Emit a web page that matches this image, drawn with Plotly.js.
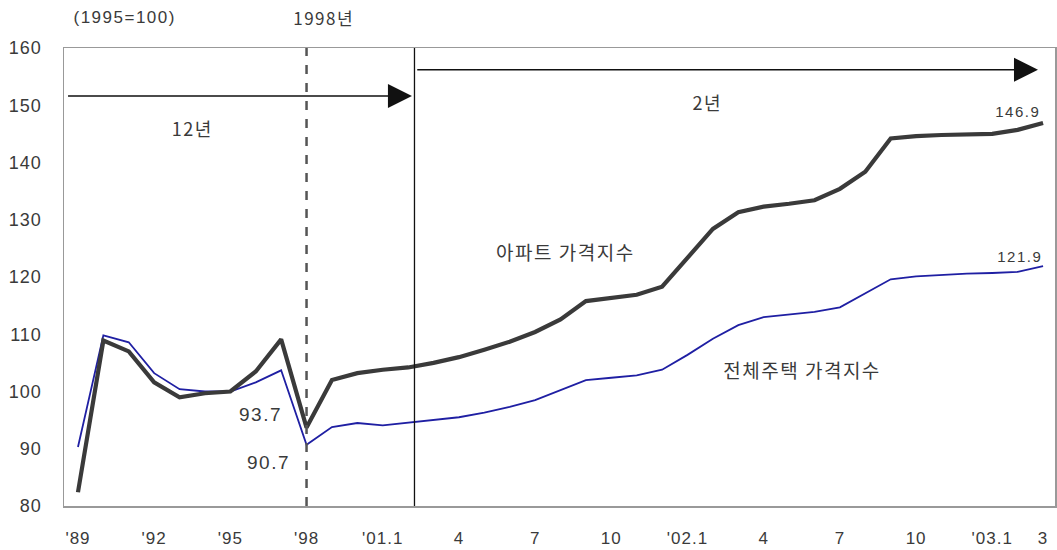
<!DOCTYPE html>
<html><head><meta charset="utf-8">
<script src="https://cdn.plot.ly/plotly-3.0.1.min.js"></script>
<style>
body{margin:0;background:#fff}#c{width:1057px;height:550px}
#c .annotation-text{letter-spacing:1.5px}
#c .xtick text, #c .ytick text{letter-spacing:1px}
</style>
</head><body><div id="c"></div>
<script>
// periods: annual 1989-2000, then monthly 2001.1-2003.3
const periods = ["'89","'90","'91","'92","'93","'94","'95","'96","'97","'98","'99","'00",
  "01.1","01.2","01.3","01.4","01.5","01.6","01.7","01.8","01.9","01.10","01.11","01.12",
  "02.1","02.2","02.3","02.4","02.5","02.6","02.7","02.8","02.9","02.10","02.11","02.12",
  "03.1","03.2","03.3"];
const apartIndex = [82.4,108.9,107.0,101.6,99.0,99.7,100.0,103.5,109.1,93.7,102.0,103.2,
  103.8,104.2,105.0,106.0,107.3,108.7,110.4,112.6,115.8,116.4,116.9,118.3,
  123.4,128.4,131.3,132.3,132.8,133.4,135.4,138.4,144.2,144.6,144.8,144.9,
  145.0,145.7,146.9];
const totalIndex = [90.3,109.8,108.6,103.2,100.4,100.0,100.0,101.6,103.7,90.7,93.8,94.5,
  94.1,94.6,95.0,95.5,96.3,97.3,98.5,100.2,102.0,102.4,102.8,103.8,
  106.4,109.2,111.6,113.0,113.5,113.9,114.7,117.2,119.6,120.1,120.4,120.6,
  120.7,120.9,121.9];
const tickCats = ["'89","'92","'95","'98","01.1","01.4","01.7","01.10","02.1","02.4","02.7","02.10","03.1","03.3"];
const tickLabels = ["'89","'92","'95","'98","'01.1","4","7","10","'02.1","4","7","10","'03.1","3"];

const FONT = "Liberation Sans, Arial, 'Noto Sans CJK KR', sans-serif";
const KFONT = "'Noto Sans CJK KR', 'Liberation Sans', sans-serif";
const TXT = '#3a3a3a';

const traces = [
  {x: periods, y: totalIndex, type:'scatter', mode:'lines',
   line:{color:'#1f1fa3', width:1.8}, hoverinfo:'skip'},
  {x: periods, y: apartIndex, type:'scatter', mode:'lines',
   line:{color:'#3a3a3a', width:4.2}, hoverinfo:'skip'}
];

function txt(x, y, text, size, family, yref){
  return {x:x, y:y, xref:'x', yref:yref||'y', text:text, showarrow:false,
    xanchor:'center', yanchor:'middle',
    font:{family:family||FONT, size:size||16, color:TXT}};
}

const layout = {
  width:1057, height:550,
  margin:{l:64, r:2, t:48, b:44},
  paper_bgcolor:'#fff', plot_bgcolor:'#fff',
  showlegend:false,
  xaxis:{type:'category', range:[-0.55, 38.47], showgrid:false, zeroline:false,
    showline:true, linecolor:'#999', linewidth:1.5, mirror:true, ticks:'',
    tickmode:'array', tickvals:tickCats, ticktext:tickLabels,
    tickfont:{family:FONT, size:17, color:TXT}, ticklabelstandoff:16},
  yaxis:{range:[80,160], dtick:10, showgrid:false, zeroline:false,
    showline:true, linecolor:'#999', linewidth:1.5, mirror:true, ticks:'',
    tickfont:{family:FONT, size:18, color:TXT}, ticklabelstandoff:17},
  shapes:[
    {type:'line', xref:'x', yref:'paper', x0:9, x1:9, y0:0, y1:1,
     line:{color:'#555', width:2.5, dash:'dash'}},
    {type:'line', xref:'x', yref:'paper', x0:13.25, x1:13.25, y0:0, y1:1,
     line:{color:'#111', width:1.3}}
  ],
  annotations:[
    {x:13.15, y:151.6, ax:-0.45, ay:151.6, xref:'x', yref:'y', axref:'x', ayref:'y',
     text:'', showarrow:true, arrowhead:2, arrowsize:3.2, arrowwidth:1.5, arrowcolor:'#111'},
    {x:37.8, y:156.2, ax:13.3, ay:156.2, xref:'x', yref:'y', axref:'x', ayref:'y',
     text:'', showarrow:true, arrowhead:2, arrowsize:3.2, arrowwidth:1.5, arrowcolor:'#111'},
    txt(1.82, 1.066, '(1995=100)', 17, FONT, 'paper'),
    txt(9.66, 1.066, '1998년', 17, KFONT, 'paper'),
    txt(4.5, 146.0, '12년', 18, KFONT),
    txt(24.8, 150.6, '2년', 18, KFONT),
    txt(7.2, 96.0, '93.7', 19),
    txt(7.5, 87.6, '90.7', 19),
    txt(19.2, 124.4, '아파트 가격지수', 19, KFONT),
    txt(28.5, 103.8, '전체주택 가격지수', 19, KFONT),
    txt(37.0, 148.9, '146.9', 15),
    txt(37.1, 123.6, '121.9', 15)
  ]
};
Plotly.newPlot('c', traces, layout, {staticPlot:true, displayModeBar:false});
</script></body></html>
